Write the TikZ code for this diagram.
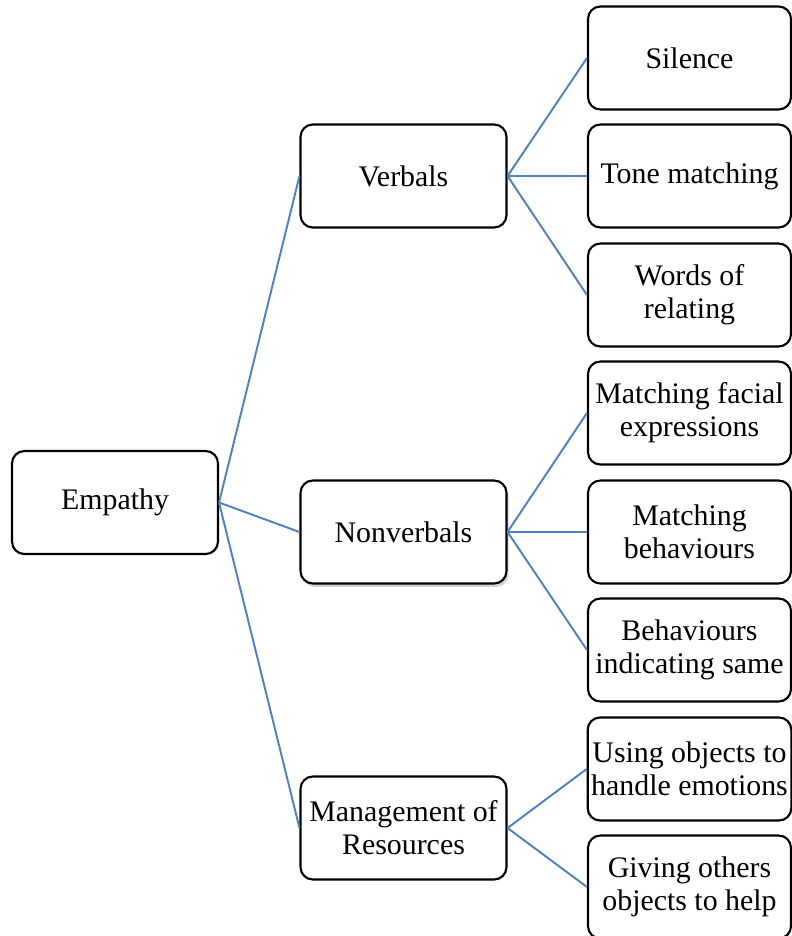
\documentclass[tikz,border=0pt]{standalone}
\usepackage{fontspec}
\setmainfont{Liberation Serif}
\usetikzlibrary{shadows}
\definecolor{branch}{HTML}{4F81BD}
\begin{document}
\begin{tikzpicture}[
  x=0.02cm, y=-0.02cm,
  font=\fontsize{17}{18.8}\selectfont,
  box/.style={draw=black,fill=white,rounded corners=7pt,line width=1.2pt,
    align=center,inner sep=2pt,minimum height=2.06cm},
  topic/.style={box,minimum width=4.12cm},
  leaf/.style={box,minimum width=4.06cm},
  link/.style={draw=branch,line width=1.1pt}
]
\useasboundingbox (0,0) rectangle (791,936);
% Root and the three main branches.
\node[topic] (empathy) at (115,502.5) {Empathy};
\node[topic] (verbals) at (403.5,176) {Verbals};
\node[topic,drop shadow={shadow xshift=1.2pt,shadow yshift=-2pt,opacity=.35}]
  (nonverbals) at (403.5,532) {Nonverbals};
\node[topic] (resources) at (403.5,828) {Management of\\Resources};
% Leaves, one column on the right.
\node[leaf] (silence) at (689.5,58) {Silence};
\node[leaf] (tone) at (689.5,176) {Tone matching};
\node[leaf] (words) at (689.5,295) {Words of\\relating};
\node[leaf] (facial) at (689.5,413) {Matching facial\\expressions};
\node[leaf] (behaviours) at (689.5,532) {Matching\\behaviours};
\node[leaf] (same) at (689.5,650) {Behaviours\\indicating same};
\node[leaf] (objects) at (689.5,769) {Using objects to\\handle emotions};
\node[leaf] (giving) at (689.5,887) {Giving others\\objects to help};
\draw[link] (empathy.east) -- (verbals.west);
\draw[link] (empathy.east) -- (nonverbals.west);
\draw[link] (empathy.east) -- (resources.west);
\draw[link] (verbals.east) -- (silence.west);
\draw[link] (verbals.east) -- (tone.west);
\draw[link] (verbals.east) -- (words.west);
\draw[link] (nonverbals.east) -- (facial.west);
\draw[link] (nonverbals.east) -- (behaviours.west);
\draw[link] (nonverbals.east) -- (same.west);
\draw[link] (resources.east) -- (objects.west);
\draw[link] (resources.east) -- (giving.west);
\end{tikzpicture}
\end{document}
